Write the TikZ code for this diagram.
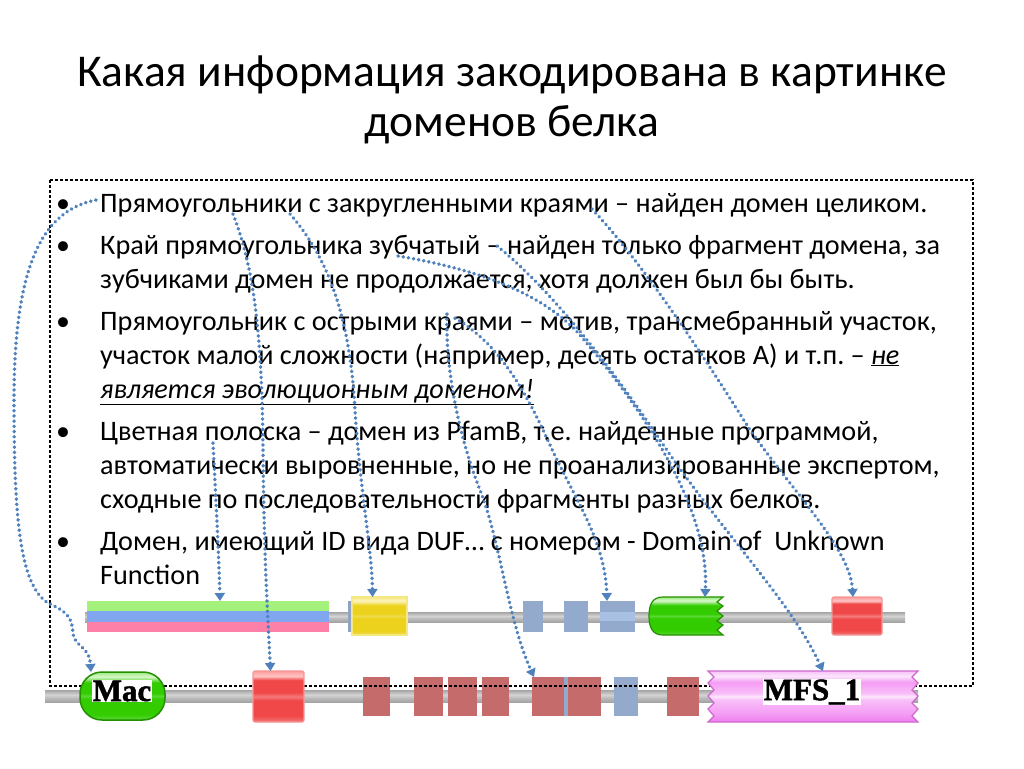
\documentclass[tikz,border=0pt]{standalone}
\usepackage{fontspec}
\setmainfont{Carlito}
\newfontfamily\domfont{Liberation Serif}[BoldFeatures={FakeBold=1.6}]
\usetikzlibrary{arrows.meta}
\definecolor{arrowblue}{HTML}{4F81BD}
\definecolor{R1}{HTML}{F04848}\definecolor{R2}{HTML}{F47A7A}\definecolor{R3}{HTML}{FF9C9C}\definecolor{R4}{HTML}{FFC4C4}
\definecolor{G1}{HTML}{33CC00}\definecolor{G2}{HTML}{5AD834}\definecolor{G3}{HTML}{9CEB80}\definecolor{G4}{HTML}{D8F8CC}
\definecolor{M1}{HTML}{F07CF0}\definecolor{M2}{HTML}{F49CF4}\definecolor{M3}{HTML}{F9C0F9}\definecolor{M4}{HTML}{FCE6FC}
\definecolor{Y1}{HTML}{ECD21C}\definecolor{Y2}{HTML}{F0DC50}\definecolor{Y3}{HTML}{F6E880}\definecolor{Y4}{HTML}{FBF4C0}
\definecolor{K1}{HTML}{A4A4A4}\definecolor{K2}{HTML}{D4D4D4}\definecolor{K3}{HTML}{B8B8B8}
\definecolor{stripG}{HTML}{A4F27C}\definecolor{stripB}{HTML}{80A6F0}\definecolor{stripP}{HTML}{FC80A8}
\definecolor{paleR}{HTML}{C56B6B}\definecolor{paleB}{HTML}{93AACD}\definecolor{paleBL}{HTML}{A8C0E2}
\pgfdeclareverticalshading{redgl}{100bp}{color(0bp)=(R2); color(25bp)=(R2); color(31bp)=(R1); color(46bp)=(R1); color(50bp)=(R2); color(54bp)=(R1); color(66bp)=(R1); color(70bp)=(R4); color(75bp)=(R3); color(100bp)=(R3)}
\pgfdeclareverticalshading{greengl}{100bp}{color(0bp)=(G2); color(25bp)=(G2); color(31bp)=(G1); color(47bp)=(G1); color(50bp)=(G2); color(53bp)=(G1); color(64bp)=(G1); color(70bp)=(G4); color(75bp)=(G3); color(100bp)=(G3)}
\pgfdeclareverticalshading{maggl}{100bp}{color(0bp)=(M1); color(25bp)=(M1); color(33bp)=(M2); color(47bp)=(M3); color(50bp)=(M4); color(53bp)=(M3); color(64bp)=(M2); color(70bp)=(M4); color(75bp)=(M3); color(100bp)=(M3)}
\pgfdeclareverticalshading{yelgl}{100bp}{color(0bp)=(Y2); color(25bp)=(Y2); color(31bp)=(Y1); color(47bp)=(Y1); color(50bp)=(Y2); color(53bp)=(Y1); color(64bp)=(Y1); color(70bp)=(Y4); color(75bp)=(Y3); color(100bp)=(Y3)}
\pgfdeclareverticalshading{graygl}{100bp}{color(0bp)=(K1); color(25bp)=(K1); color(40bp)=(K3); color(55bp)=(K2); color(75bp)=(K1); color(100bp)=(K1)}
\frenchspacing
\begin{document}
\begin{tikzpicture}[x=1pt,y=-1pt,
  title/.style={anchor=base, inner sep=0pt, font=\fontsize{45.5}{50}\selectfont},
  body/.style={anchor=base west, inner sep=0pt, font=\fontsize{28.2}{34}\selectfont},
  bul/.style={anchor=base, inner sep=0pt, font=\fontsize{28}{34}\selectfont},
  dom/.style={inner sep=0pt, outer sep=0pt},
  redbox/.style={dom, rounded corners=2pt, draw=R2!80!white, line width=1.2pt, shading=redgl},
  yelbox/.style={dom, draw=Y3, line width=1.2pt, shading=yelgl},
  palebox/.style={dom, fill=paleR},
  bluebox/.style={dom, fill=paleB},
  domlabel/.style={fill=white, inner sep=1pt, text=black, font=\domfont\bfseries\fontsize{31}{31}\selectfont},
  ptr/.style={draw=arrowblue, line width=3.6pt, dash pattern=on 0.3pt off 4.9pt, line cap=round, -{Triangle[width=10pt,length=8pt]}},
  frame/.style={draw=black, line width=2.6pt, dash pattern=on 2.6pt off 2.4pt}
]
\useasboundingbox (0,0) rectangle (1024,768);
\fill[white] (0,0) rectangle (1024,768);

% title
\node[title] (ti1) at (512,86) {Какая информация закодирована в картинке};
\node[title] (ti2) at (512,136) {доменов белка};

% bullets
\node[bul] (b1) at (63,212) {•};
\node[bul] (b2) at (63,254) {•};
\node[bul] (b3) at (63,330) {•};
\node[bul] (b4) at (63,440) {•};
\node[bul] (b5) at (63,550) {•};
\node[body] (t1) at (100,212) {Прямоугольники с закругленными краями – найден домен целиком.};
\node[body] (t2) at (100,254) {Край прямоугольника зубчатый – найден только фрагмент домена, за};
\node[body] (t3) at (100,288) {зубчиками домен не продолжается, хотя должен был бы быть.};
\node[body] (t4) at (100,330) {Прямоугольник с острыми краями – мотив, трансмебранный участок,};
\node[body] (t5) at (100,364) {участок малой сложности (например, десять остатков А) и т.п. – \underline{\textit{не}}};
\node[body] (t6) at (100,398) {\underline{\textit{является эволюционным доменом!}}};
\node[body] (t7) at (100,440) {Цветная полоска – домен из PfamB, т.е. найденные программой,};
\node[body] (t8) at (100,474) {автоматически выровненные, но не проанализированные экспертом,};
\node[body] (t9) at (100,508) {сходные по последовательности фрагменты разных белков.};
\node[body] (t10) at (100,550) {Домен, имеющий ID вида DUF… с номером - Domain of\ \ Unknown};
\node[body] (t11) at (100,584) {Function};

% top row
\fill[shading=graygl] (85,612) rectangle (905,622);
\node[dom, fill=stripG, minimum width=242pt, minimum height=10pt] (sg) at (208,606) {};
\node[dom, fill=stripB, minimum width=242pt, minimum height=11pt] (sb) at (208,616.5) {};
\node[dom, fill=stripP, minimum width=242pt, minimum height=10pt] (sp) at (208,627) {};
\node[dom, fill=paleB!85!gray, minimum width=5pt, minimum height=31pt] (ytab) at (350.5,616.5) {};
\node[yelbox, minimum width=55pt, minimum height=38pt] (yel) at (379.5,616) {};
\node[bluebox, minimum width=20pt, minimum height=31pt] (bs1) at (533,616.5) {};
\node[bluebox, minimum width=24pt, minimum height=31pt] (bs2) at (576,616.5) {};
\node[bluebox, minimum width=35pt, minimum height=31pt] (bs3) at (617.5,616.5) {};
\fill[paleBL] (600,612) rectangle (635,621);
\node[dom, minimum width=74pt, minimum height=38pt] (gj) at (686,616) {};
\draw[draw=G1!70!black, line width=1.2pt, shading=greengl]
  (723,597) -- (663,597) .. controls (652,597) and (649,605) .. (649,616)
  .. controls (649,627) and (652,635) .. (663,635) -- (723,635)
  -- (717,630) -- (723,625) -- (717,621) -- (723,616) -- (717,611) -- (723,606) -- (717,602) -- cycle;
\node[redbox, minimum width=50pt, minimum height=38pt] (rt) at (857,616) {};

% bottom row
\fill[shading=graygl] (45,690) rectangle (918,702);
\node[palebox, minimum width=27pt, minimum height=39pt] (pr1) at (376.5,696.5) {};
\node[palebox, minimum width=29pt, minimum height=39pt] (pr2) at (428.5,696.5) {};
\node[palebox, minimum width=29pt, minimum height=39pt] (pr3) at (462.5,696.5) {};
\node[palebox, minimum width=27pt, minimum height=39pt] (pr4) at (495.5,696.5) {};
\node[palebox, minimum width=32pt, minimum height=39pt] (pr5) at (548,696.5) {};
\node[bluebox, minimum width=4pt, minimum height=39pt] (bl1) at (566,696.5) {};
\node[palebox, minimum width=33pt, minimum height=39pt] (pr6) at (584.5,696.5) {};
\node[bluebox, minimum width=24pt, minimum height=39pt] (bs4) at (626,696.5) {};
\node[palebox, minimum width=32pt, minimum height=39pt] (pr7) at (683,696.5) {};

% dotted frame
\draw[frame] (50,180) rectangle (973,686);

% bottom glossy domains
\node[dom, rounded corners=22pt, draw=G1!70!black, line width=1.5pt, shading=greengl, minimum width=85pt, minimum height=48pt] (mac) at (122.5,696) {};
\node[domlabel] (macl) at (122,691) {Mac};
\node[redbox, minimum width=51pt, minimum height=51pt] (rb) at (278.5,696.5) {};
\node[dom, minimum width=210pt, minimum height=51pt] (mfs) at (813,696.5) {};
\draw[draw=M1!85!black, line width=1.2pt, shading=maggl]
  (708,671) -- (918,671) -- (912,677) -- (918,683) -- (912,690) -- (918,696) -- (912,703) -- (918,709) -- (912,716) -- (918,722)
  -- (708,722) -- (714,716) -- (708,709) -- (714,703) -- (708,696) -- (714,690) -- (708,683) -- (714,677) -- cycle;
\node[domlabel] (mfsl) at (812,692) {MFS\_1};

% arrow starts
\coordinate (sA) at (96,200);
\coordinate (sB) at (233,214);
\coordinate (sC) at (290,214);
\coordinate (sD) at (213,443);
\coordinate (sE) at (447,314);
\coordinate (sF) at (455,318);
\coordinate (sG) at (398,256);
\coordinate (sH) at (497,246);
\coordinate (sI) at (592,209);

% arrows
\draw[ptr] (sA) .. controls (45,210) and (14,260) .. (14,400)
  .. controls (14,520) and (20,585) .. (48,603)
  .. controls (68,612) and (72,618) .. (73,633)
  .. controls (75,648) and (89,645) .. ([xshift=11pt]mac.north west);
\draw[ptr] (sB) .. controls (255,270) and (262,340) .. (263,450)
  .. controls (264,560) and (268,620) .. ([xshift=-8pt]rb.north);
\draw[ptr] (sC) .. controls (330,260) and (350,320) .. (355,410)
  .. controls (360,490) and (372,550) .. ([xshift=-7pt]yel.north);
\draw[ptr] (sD) .. controls (216,500) and (219,560) .. ([xshift=12pt]sg.north);
\draw[ptr] (sE) .. controls (445,370) and (460,440) .. (480,490)
  .. controls (500,540) and (508,620) .. ([xshift=-14pt]pr5.north);
\draw[ptr] (sF) .. controls (500,345) and (525,390) .. (550,445)
  .. controls (575,500) and (605,540) .. ([xshift=-10.5pt]bs3.north);
\draw[ptr] (sG) .. controls (470,268) and (540,290) .. (580,335)
  .. controls (630,395) and (710,500) .. ([xshift=19pt]gj.north);
\draw[ptr] (sH) .. controls (540,280) and (600,350) .. (660,440)
  .. controls (720,530) and (790,600) .. ([xshift=10pt]mfs.north);
\draw[ptr] (sI) .. controls (640,260) and (700,350) .. (750,430)
  .. controls (800,500) and (850,550) .. ([xshift=-4pt]rt.north);
\end{tikzpicture}
\end{document}
